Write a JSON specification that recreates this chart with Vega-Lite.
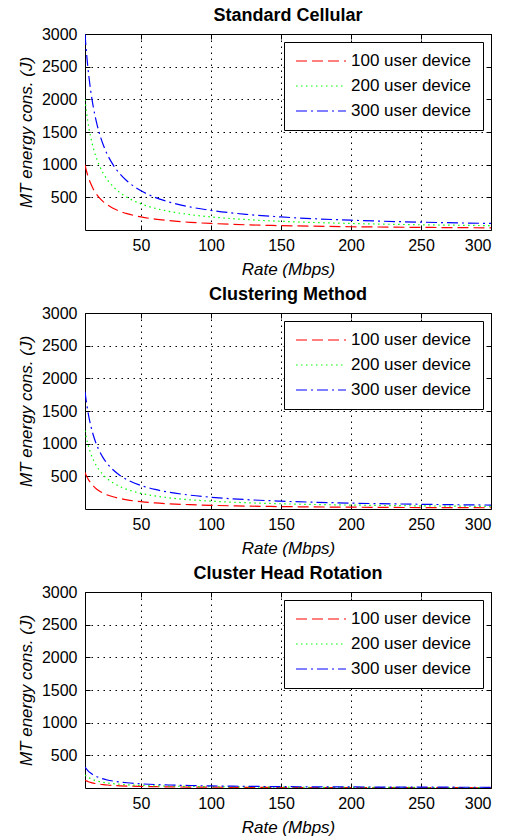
{
  "$schema": "https://vega.github.io/schema/vega-lite/v6.json",
  "background": "white",
  "padding": {"left": 16, "top": 6, "right": 5, "bottom": 2},
  "config": {
    "font": "Liberation Sans",
    "view": {"stroke": "black", "strokeWidth": 1},
    "concat": {"spacing": 7},
    "axis": {
      "domain": false,
      "grid": true,
      "gridColor": "black",
      "gridDash": [1.5, 4.5],
      "gridOpacity": 1,
      "gridWidth": 1,
      "labelFont": "Liberation Sans",
      "labelFontSize": 16,
      "labelColor": "black",
      "tickColor": "black",
      "tickSize": -5,
      "titleFont": "Liberation Sans",
      "titleFontSize": 17,
      "titleFontStyle": "italic",
      "titleFontWeight": "normal",
      "titleColor": "black",
      "format": "d"
    },
    "axisX": {"labelPadding": 12, "titlePadding": 8},
    "axisY": {"labelPadding": 13, "titlePadding": 6},
    "title": {"font": "Liberation Sans", "fontSize": 18, "fontWeight": "bold", "color": "black", "offset": 1},
    "legend": {
      "orient": "top-right",
      "offset": 8,
      "strokeColor": "black",
      "fillColor": "white",
      "padding": 11,
      "title": null,
      "labelFont": "Liberation Sans",
      "labelFontSize": 17,
      "labelColor": "black",
      "labelOffset": 4,
      "symbolType": "stroke",
      "symbolSize": 2500,
      "symbolStrokeWidth": 1.2,
      "clipHeight": 16,
      "rowPadding": 8
    }
  },
  "data": {
    "values": [
      {"p": "S", "x": 10, "a": 1000, "b": 2000, "c": 3000},
      {"p": "S", "x": 11, "a": 909, "b": 1818, "c": 2727},
      {"p": "S", "x": 12, "a": 833, "b": 1667, "c": 2500},
      {"p": "S", "x": 14, "a": 714, "b": 1429, "c": 2143},
      {"p": "S", "x": 16, "a": 625, "b": 1250, "c": 1875},
      {"p": "S", "x": 18, "a": 556, "b": 1111, "c": 1667},
      {"p": "S", "x": 20, "a": 500, "b": 1000, "c": 1500},
      {"p": "S", "x": 23, "a": 435, "b": 870, "c": 1304},
      {"p": "S", "x": 26, "a": 385, "b": 769, "c": 1154},
      {"p": "S", "x": 30, "a": 333, "b": 667, "c": 1000},
      {"p": "S", "x": 35, "a": 286, "b": 571, "c": 857},
      {"p": "S", "x": 40, "a": 250, "b": 500, "c": 750},
      {"p": "S", "x": 50, "a": 200, "b": 400, "c": 600},
      {"p": "S", "x": 60, "a": 167, "b": 333, "c": 500},
      {"p": "S", "x": 70, "a": 143, "b": 286, "c": 429},
      {"p": "S", "x": 85, "a": 118, "b": 235, "c": 353},
      {"p": "S", "x": 100, "a": 100, "b": 200, "c": 300},
      {"p": "S", "x": 125, "a": 80, "b": 160, "c": 240},
      {"p": "S", "x": 150, "a": 67, "b": 133, "c": 200},
      {"p": "S", "x": 200, "a": 50, "b": 100, "c": 150},
      {"p": "S", "x": 250, "a": 40, "b": 80, "c": 120},
      {"p": "S", "x": 300, "a": 33, "b": 67, "c": 100},
      {"p": "C", "x": 10, "a": 560, "b": 1200, "c": 1800},
      {"p": "C", "x": 11, "a": 509, "b": 1091, "c": 1636},
      {"p": "C", "x": 12, "a": 467, "b": 1000, "c": 1500},
      {"p": "C", "x": 14, "a": 400, "b": 857, "c": 1286},
      {"p": "C", "x": 16, "a": 350, "b": 750, "c": 1125},
      {"p": "C", "x": 18, "a": 311, "b": 667, "c": 1000},
      {"p": "C", "x": 20, "a": 280, "b": 600, "c": 900},
      {"p": "C", "x": 23, "a": 243, "b": 522, "c": 783},
      {"p": "C", "x": 26, "a": 215, "b": 462, "c": 692},
      {"p": "C", "x": 30, "a": 187, "b": 400, "c": 600},
      {"p": "C", "x": 35, "a": 160, "b": 343, "c": 514},
      {"p": "C", "x": 40, "a": 140, "b": 300, "c": 450},
      {"p": "C", "x": 50, "a": 112, "b": 240, "c": 360},
      {"p": "C", "x": 60, "a": 93, "b": 200, "c": 300},
      {"p": "C", "x": 70, "a": 80, "b": 171, "c": 257},
      {"p": "C", "x": 85, "a": 66, "b": 141, "c": 212},
      {"p": "C", "x": 100, "a": 56, "b": 120, "c": 180},
      {"p": "C", "x": 125, "a": 45, "b": 96, "c": 144},
      {"p": "C", "x": 150, "a": 37, "b": 80, "c": 120},
      {"p": "C", "x": 200, "a": 28, "b": 60, "c": 90},
      {"p": "C", "x": 250, "a": 22, "b": 48, "c": 72},
      {"p": "C", "x": 300, "a": 19, "b": 40, "c": 60},
      {"p": "R", "x": 10, "a": 120, "b": 200, "c": 320},
      {"p": "R", "x": 11, "a": 109, "b": 182, "c": 291},
      {"p": "R", "x": 12, "a": 100, "b": 167, "c": 267},
      {"p": "R", "x": 14, "a": 86, "b": 143, "c": 229},
      {"p": "R", "x": 16, "a": 75, "b": 125, "c": 200},
      {"p": "R", "x": 18, "a": 67, "b": 111, "c": 178},
      {"p": "R", "x": 20, "a": 60, "b": 100, "c": 160},
      {"p": "R", "x": 23, "a": 52, "b": 87, "c": 139},
      {"p": "R", "x": 26, "a": 46, "b": 77, "c": 123},
      {"p": "R", "x": 30, "a": 40, "b": 67, "c": 107},
      {"p": "R", "x": 35, "a": 34, "b": 57, "c": 91},
      {"p": "R", "x": 40, "a": 30, "b": 50, "c": 80},
      {"p": "R", "x": 50, "a": 24, "b": 40, "c": 64},
      {"p": "R", "x": 60, "a": 20, "b": 33, "c": 53},
      {"p": "R", "x": 70, "a": 17, "b": 29, "c": 46},
      {"p": "R", "x": 85, "a": 14, "b": 24, "c": 38},
      {"p": "R", "x": 100, "a": 12, "b": 20, "c": 32},
      {"p": "R", "x": 125, "a": 10, "b": 16, "c": 26},
      {"p": "R", "x": 150, "a": 8, "b": 13, "c": 21},
      {"p": "R", "x": 200, "a": 6, "b": 10, "c": 16},
      {"p": "R", "x": 250, "a": 5, "b": 8, "c": 13},
      {"p": "R", "x": 300, "a": 4, "b": 7, "c": 11}
    ]
  },
  "resolve": {"legend": {"color": "independent", "strokeDash": "independent"}},
  "vconcat": [
    {
      "title": "Standard Cellular",
      "width": 406,
      "height": 196,
      "transform": [{"filter": "datum.p == 'S'"}, {"fold": ["a", "b", "c"], "as": ["s", "v"]}],
      "resolve": {"axis": {"x": "independent", "y": "independent"}},
      "layer": [
        {
          "mark": {"type": "line", "strokeWidth": 1.2, "interpolate": "monotone", "clip": true},
          "encoding": {
            "x": {"field": "x", "type": "quantitative", "scale": {"domain": [10, 300], "nice": false, "zero": false}, "axis": {"values": [50, 100, 150, 200, 250, 300], "title": "Rate (Mbps)"}},
            "y": {"field": "v", "type": "quantitative", "scale": {"domain": [0, 3000], "nice": false}, "axis": {"values": [500, 1000, 1500, 2000, 2500, 3000], "title": "MT energy cons. (J)"}},
            "color": {"field": "s", "type": "nominal", "scale": {"domain": ["a", "b", "c"], "range": ["#ff0000", "#00ff00", "#0000ff"]}, "legend": {"labelExpr": "datum.label == 'a' ? '100 user device' : datum.label == 'b' ? '200 user device' : '300 user device'"}},
            "strokeDash": {"field": "s", "type": "nominal", "scale": {"domain": ["a", "b", "c"], "range": [[11, 5], [1.5, 3.5], [11, 4, 2, 4]]}, "legend": {"labelExpr": "datum.label == 'a' ? '100 user device' : datum.label == 'b' ? '200 user device' : '300 user device'"}}
          }
        },
        {
          "mark": {"type": "point", "opacity": 0},
          "encoding": {
            "x": {"field": "x", "type": "quantitative", "axis": {"orient": "top", "values": [50, 100, 150, 200, 250, 300], "labels": false, "grid": false, "title": null}},
            "y": {"field": "v", "type": "quantitative", "axis": {"orient": "right", "values": [500, 1000, 1500, 2000, 2500, 3000], "labels": false, "grid": false, "title": null}}
          }
        }
      ]
    },
    {
      "title": "Clustering Method",
      "width": 406,
      "height": 196,
      "transform": [{"filter": "datum.p == 'C'"}, {"fold": ["a", "b", "c"], "as": ["s", "v"]}],
      "resolve": {"axis": {"x": "independent", "y": "independent"}},
      "layer": [
        {
          "mark": {"type": "line", "strokeWidth": 1.2, "interpolate": "monotone", "clip": true},
          "encoding": {
            "x": {"field": "x", "type": "quantitative", "scale": {"domain": [10, 300], "nice": false, "zero": false}, "axis": {"values": [50, 100, 150, 200, 250, 300], "title": "Rate (Mbps)"}},
            "y": {"field": "v", "type": "quantitative", "scale": {"domain": [0, 3000], "nice": false}, "axis": {"values": [500, 1000, 1500, 2000, 2500, 3000], "title": "MT energy cons. (J)"}},
            "color": {"field": "s", "type": "nominal", "scale": {"domain": ["a", "b", "c"], "range": ["#ff0000", "#00ff00", "#0000ff"]}, "legend": {"labelExpr": "datum.label == 'a' ? '100 user device' : datum.label == 'b' ? '200 user device' : '300 user device'"}},
            "strokeDash": {"field": "s", "type": "nominal", "scale": {"domain": ["a", "b", "c"], "range": [[11, 5], [1.5, 3.5], [11, 4, 2, 4]]}, "legend": {"labelExpr": "datum.label == 'a' ? '100 user device' : datum.label == 'b' ? '200 user device' : '300 user device'"}}
          }
        },
        {
          "mark": {"type": "point", "opacity": 0},
          "encoding": {
            "x": {"field": "x", "type": "quantitative", "axis": {"orient": "top", "values": [50, 100, 150, 200, 250, 300], "labels": false, "grid": false, "title": null}},
            "y": {"field": "v", "type": "quantitative", "axis": {"orient": "right", "values": [500, 1000, 1500, 2000, 2500, 3000], "labels": false, "grid": false, "title": null}}
          }
        }
      ]
    },
    {
      "title": "Cluster Head Rotation",
      "width": 406,
      "height": 196,
      "transform": [{"filter": "datum.p == 'R'"}, {"fold": ["a", "b", "c"], "as": ["s", "v"]}],
      "resolve": {"axis": {"x": "independent", "y": "independent"}},
      "layer": [
        {
          "mark": {"type": "line", "strokeWidth": 1.2, "interpolate": "monotone", "clip": true},
          "encoding": {
            "x": {"field": "x", "type": "quantitative", "scale": {"domain": [10, 300], "nice": false, "zero": false}, "axis": {"values": [50, 100, 150, 200, 250, 300], "title": "Rate (Mbps)"}},
            "y": {"field": "v", "type": "quantitative", "scale": {"domain": [0, 3000], "nice": false}, "axis": {"values": [500, 1000, 1500, 2000, 2500, 3000], "title": "MT energy cons. (J)"}},
            "color": {"field": "s", "type": "nominal", "scale": {"domain": ["a", "b", "c"], "range": ["#ff0000", "#00ff00", "#0000ff"]}, "legend": {"labelExpr": "datum.label == 'a' ? '100 user device' : datum.label == 'b' ? '200 user device' : '300 user device'"}},
            "strokeDash": {"field": "s", "type": "nominal", "scale": {"domain": ["a", "b", "c"], "range": [[11, 5], [1.5, 3.5], [11, 4, 2, 4]]}, "legend": {"labelExpr": "datum.label == 'a' ? '100 user device' : datum.label == 'b' ? '200 user device' : '300 user device'"}}
          }
        },
        {
          "mark": {"type": "point", "opacity": 0},
          "encoding": {
            "x": {"field": "x", "type": "quantitative", "axis": {"orient": "top", "values": [50, 100, 150, 200, 250, 300], "labels": false, "grid": false, "title": null}},
            "y": {"field": "v", "type": "quantitative", "axis": {"orient": "right", "values": [500, 1000, 1500, 2000, 2500, 3000], "labels": false, "grid": false, "title": null}}
          }
        }
      ]
    }
  ]
}
